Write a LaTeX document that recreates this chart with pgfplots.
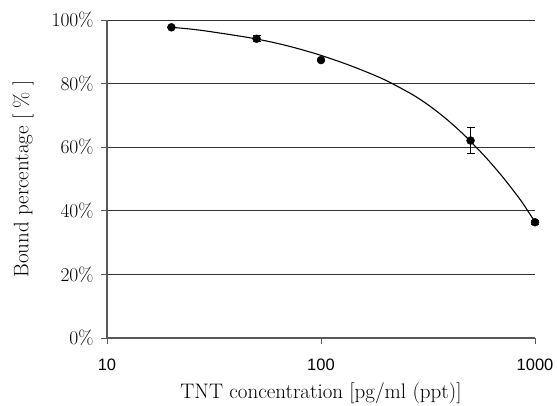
\documentclass[border=0pt]{standalone}
\usepackage{pgfplots}
\pgfplotsset{compat=1.18}
\usepackage{fontspec}
\newfontfamily\tickfont{Liberation Sans}

\begin{document}
\begin{tikzpicture}
\begin{axis}[
  scale only axis,
  width=428pt, height=318pt,
  xmode=log, log basis x=10,
  xmin=10, xmax=1000,
  ymin=0, ymax=100,
  xtick={10,100,1000},
  xticklabels={10,100,1000},
  minor xtick={},
  ytick={0,20,40,60,80,100},
  yticklabel={\pgfmathprintnumber[assume math mode=true]{\tick}\%},
  x tick label style={font=\fontsize{16.5}{19}\selectfont\tickfont, yshift=-11pt},
  y tick label style={font=\fontsize{19.5}{22}\selectfont, xshift=-4pt},
  axis x line*=bottom, axis y line*=left,
  axis line style={black!65, line width=1.1pt, -},
  tick style={black!65, line width=0.9pt},
  tick align=outside,
  major tick length=6pt,
  ymajorgrids,
  grid style={black!80, line width=0.8pt},
  xlabel={TNT concentration [pg/ml (ppt)]},
  ylabel={Bound percentage [ \% ]},
  label style={font=\fontsize{21}{23}\selectfont},
  xlabel style={yshift=-6pt},
  ylabel style={yshift=11pt},
  clip=false,
]
% fitted curve
\addplot[black, line width=1.1pt, smooth] coordinates {
  (20,97.7) (27.2,96.8) (46.6,94.4) (66.7,92.2) (95.5,89.3)
  (136.6,85.7) (195.5,81.4) (269.8,76.4) (322.8,72.9) (386.4,68.8)
  (462.4,64.1) (515,60.9) (594.6,56.5) (711,50.4) (851,43.6)
  (948,38.9) (1000,36.5)
};
% measured points
\addplot[only marks, mark=*, mark size=4pt, black,
  error bars/.cd, y dir=both, y explicit,
  error bar style={black, line width=0.9pt},
  error mark options={rotate=90, mark size=4pt, line width=0.9pt}]
  coordinates {
  (20,97.7) +- (0,0)
  (50,94.1) +- (0,1.0)
  (100,87.4) +- (0,0)
  (500,62.1) +- (0,4.0)
  (1000,36.4) +- (0,0.6)
};
\end{axis}
\pgfresetboundingbox
\path[use as bounding box] ([xshift=-107pt,yshift=-67pt]current axis.south west)
  rectangle ([xshift=22pt,yshift=20pt]current axis.north east);
\end{tikzpicture}
\end{document}
